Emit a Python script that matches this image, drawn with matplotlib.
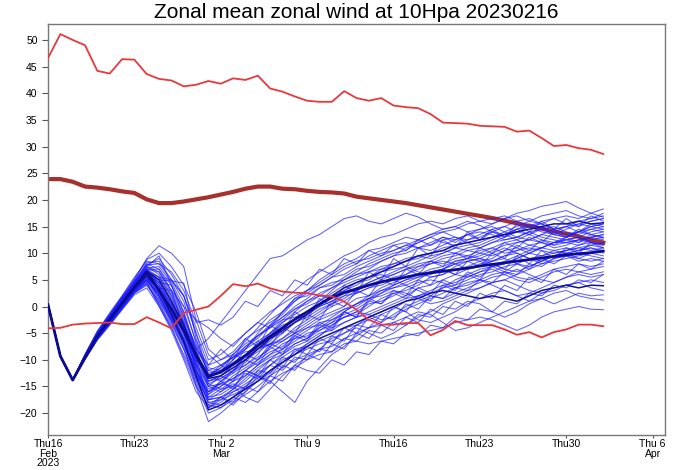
import matplotlib
matplotlib.use('Agg')
import matplotlib.pyplot as plt
import numpy as np

# Daily dates of the forecast (Feb 16 -> Apr 2, 2023)
dates = np.arange('2023-02-16', '2023-04-03', dtype='datetime64[D]')

# Climatological max / min / mean of the zonal mean zonal wind (m/s)
clim_max = [46.6, 51.1, 50.0, 49.0, 44.2, 43.7, 46.4, 46.3, 43.6, 42.7,
            42.4, 41.3, 41.6, 42.3, 41.8, 42.8, 42.5, 43.3, 40.9, 40.3,
            39.4, 38.6, 38.4, 38.4, 40.4, 39.1, 38.6, 39.1, 37.7, 37.4,
            37.2, 36.1, 34.5, 34.4, 34.3, 33.9, 33.8, 33.7, 32.8, 33.0,
            31.6, 30.1, 30.3, 29.7, 29.4, 28.6]
clim_min = [-4.1, -4.0, -3.4, -3.2, -3.1, -3.0, -3.3, -3.3, -2.0, -3.0,
            -4.1, -1.2, -0.6, 0.0, 2.0, 4.2, 3.8, 4.3, 3.4, 2.8,
            2.6, 2.5, 2.1, 1.9, 0.9, -0.6, -2.5, -3.4, -3.4, -3.1,
            -3.1, -5.4, -4.4, -2.7, -3.5, -3.5, -3.5, -4.3, -5.3, -4.8,
            -5.8, -4.8, -4.3, -3.4, -3.4, -3.7]
clim_mean = [23.9, 23.9, 23.4, 22.5, 22.3, 22.0, 21.6, 21.3, 20.1, 19.4,
             19.4, 19.7, 20.1, 20.5, 21.0, 21.5, 22.1, 22.5, 22.5, 22.1,
             22.0, 21.7, 21.5, 21.4, 21.2, 20.6, 20.3, 20.0, 19.7, 19.4,
             19.0, 18.6, 18.2, 17.8, 17.4, 17.0, 16.6, 16.1, 15.6, 15.1,
             14.6, 14.1, 13.6, 13.1, 12.5, 12.0]

# All members share the first three days
start = [0.4, -9.3, -13.8]

# Ensemble mean
ens_mean = [0.3, -9.3, -13.8, -9.6, -5.6, -2.4, 0.6, 3.6, 6.5, 3.0,
            -0.5, -4.5, -9.0, -13.1, -12.3, -10.8, -9.2, -7.4, -5.6, -4.0,
            -2.4, -1.0, 0.4, 1.7, 2.6, 3.3, 4.0, 4.6, 5.1, 5.5,
            6.0, 6.3, 6.6, 6.9, 7.2, 7.6, 7.9, 8.2, 8.5, 8.8,
            9.1, 9.4, 9.7, 9.9, 10.1, 10.4]

# Members from day 3 onwards
m01 = [-9.2, -5.0, -2.0, 1.0, 4.0, 7.0, 4.0, 0.0, -3.5, -8.0, -6.0,
       -3.0, 0.0, 3.0, 6.0, 9.0, 9.5, 11.0, 12.5, 13.5, 15.0, 16.5, 17.0, 16.0, 15.5,
       16.5, 17.5, 16.8, 15.5, 14.5, 15.0, 16.0, 15.2, 14.0, 13.5, 14.5, 15.5, 14.8, 13.5,
       13.0, 14.0, 15.0, 14.5]
m02 = [-9.8, -6.0, -3.0, 0.0, 3.0, 5.5, 3.0, -1.0, -5.0, -10.0, -13.0,
       -11.5, -9.0, -6.5, -4.0, -1.5, 1.0, 3.0, 5.0, 6.5, 8.0, 9.5, 10.5, 12.0, 13.0,
       13.5, 14.5, 15.5, 16.0, 15.5, 16.5, 17.0, 16.0, 15.5, 16.5, 17.5, 18.0, 18.8, 19.2,
       19.7, 18.5, 17.5, 16.8]
m03 = [-9.4, -5.4, -2.2, 0.8, 4.2, 7.5, 6.0, 2.0, -3.0, -9.0, -14.0,
       -13.0, -11.0, -8.0, -5.0, -2.5, -1.0, 1.0, 3.0, 5.0, 6.5, 8.0, 9.0, 10.5, 11.0,
       12.0, 13.0, 12.5, 13.5, 14.5, 15.0, 14.0, 14.5, 15.5, 16.5, 17.0, 16.0, 15.5, 16.5,
       17.0, 16.5, 17.5, 18.3]
m04 = [-9.0, -4.8, -1.5, 1.8, 5.0, 9.0, 11.4, 10.0, 7.5, -2.5, -9.0,
       -11.0, -9.5, -8.0, -5.5, -4.0, -1.0, 1.5, 2.0, 3.5, 4.0, 5.5, 7.0, 7.5, 8.5,
       9.5, 10.0, 11.0, 11.5, 12.5, 13.0, 12.0, 11.0, 12.0, 13.0, 14.0, 13.5, 12.5, 12.0,
       13.0, 14.0, 13.5, 12.8]
m05 = [-9.6, -5.8, -2.8, 0.2, 3.2, 6.0, 5.0, 4.8, 4.4, -6.0, -13.0,
       -14.0, -12.0, -11.0, -9.0, -6.0, -5.0, -3.0, -1.5, 0.0, 1.0, 2.5, 3.0, 4.5, 5.5,
       6.0, 7.0, 7.5, 8.5, 8.0, 9.0, 9.5, 10.5, 11.0, 10.0, 10.5, 11.5, 12.0, 11.0,
       11.5, 12.5, 12.0, 11.8]
m06 = [-9.7, -6.0, -3.0, 0.0, 3.0, 5.0, 2.0, -3.0, -8.0, -15.0, -21.6,
       -20.0, -18.0, -16.5, -15.0, -13.0, -10.5, -9.0, -7.0, -5.5, -3.5, -2.0, -1.5, 0.0, 1.5,
       2.5, 3.0, 4.0, 5.5, 6.0, 7.0, 7.5, 8.5, 9.0, 10.5, 11.0, 10.0, 11.0, 12.0,
       12.5, 12.0, 13.0, 13.5]
m07 = [-9.5, -5.5, -2.5, 0.5, 3.5, 6.0, 3.5, -1.0, -5.0, -11.0, -16.0,
       -15.0, -13.5, -12.0, -13.0, -14.0, -16.0, -18.0, -14.0, -11.5, -9.0, -7.5, -5.5, -4.0, -3.0,
       -1.5, 0.0, 1.0, 2.0, 3.5, 4.0, 5.0, 6.0, 6.5, 7.5, 8.0, 9.0, 9.5, 10.0,
       10.5, 11.0, 10.5, 11.0]
m08 = [-9.9, -6.2, -3.4, -0.5, 2.5, 4.0, 1.0, -2.5, -7.0, -13.0, -18.0,
       -18.5, -17.0, -18.0, -16.0, -14.0, -12.5, -11.5, -10.0, -9.0, -8.5, -7.0, -6.5, -7.0, -6.5,
       -6.0, -5.5, -5.0, -4.5, -4.0, -3.0, -2.5, -2.0, -2.5, -3.5, -4.5, -3.5, -2.0, -1.0,
       -0.5, 0.0, -0.5, -0.6]
m09 = [-9.3, -5.2, -2.2, 0.8, 3.8, 6.5, 4.5, 0.5, -4.0, -10.0, -17.5,
       -17.0, -16.0, -14.5, -13.0, -11.0, -9.5, -8.0, -7.5, -6.5, -5.5, -4.0, -3.5, -2.0, -1.0,
       0.0, -1.0, -2.5, -3.0, -2.0, -1.0, 0.5, 1.5, 2.5, 3.0, 2.0, 1.0, 1.5, 2.5,
       3.0, 2.0, 1.5, 1.2]
m10 = [-9.5, -5.6, -2.6, 0.3, 3.3, 5.5, 2.0, -2.0, -6.5, -12.0, -15.5,
       -14.5, -12.0, -10.5, -8.0, -6.5, -4.0, -2.5, -1.0, 0.5, 2.0, 3.0, 4.5, 5.0, 6.5,
       7.0, 7.5, 6.5, 5.5, 6.0, 7.5, 8.5, 9.0, 8.0, 7.0, 6.5, 7.5, 8.5, 9.5,
       10.0, 9.0, 8.5, 9.0]
m11 = [-9.0, -4.6, -1.2, 2.0, 5.5, 8.5, 8.0, 5.0, 1.0, -7.0, -12.5,
       -12.0, -10.0, -7.5, -6.0, -3.5, -2.0, 0.0, 1.5, 3.5, 4.5, 5.0, 6.5, 8.0, 9.0,
       10.0, 10.5, 12.0, 13.0, 12.0, 11.5, 12.5, 13.5, 14.5, 15.0, 14.0, 15.0, 16.0, 16.5,
       15.5, 15.0, 16.0, 16.5]
m12 = [-9.8, -6.0, -3.2, -0.2, 2.8, 4.5, 0.0, -4.0, -9.0, -14.0, -19.0,
       -18.0, -16.0, -15.0, -12.5, -11.0, -9.0, -7.0, -6.0, -4.0, -3.0, -1.0, 0.5, 1.5, 2.5,
       4.0, 5.0, 5.5, 6.5, 7.0, 8.5, 9.0, 10.0, 9.5, 10.5, 12.0, 12.5, 13.5, 13.0,
       12.5, 13.0, 14.0, 14.5]
m13 = [-9.4, -5.3, -2.0, 1.2, 4.5, 7.0, 6.5, 3.0, 0.0, -2.5, -4.0,
       -6.0, -7.5, -5.0, -3.0, -4.0, -2.5, -0.5, 1.0, 2.0, 1.5, 3.0, 4.0, 5.5, 6.0,
       5.0, 4.0, 5.0, 6.5, 7.0, 6.0, 5.5, 6.5, 7.5, 8.0, 9.0, 10.0, 9.5, 10.5,
       11.0, 10.5, 11.5, 12.0]
m14 = [-9.6, -5.7, -2.7, 0.2, 3.0, 5.0, 1.5, -2.0, -6.0, -11.0, -17.0,
       -16.5, -15.0, -17.0, -18.0, -15.5, -13.0, -11.0, -9.5, -8.0, -6.0, -5.0, -3.5, -2.5, -1.5,
       -0.5, 1.0, 2.0, 2.5, 3.5, 5.0, 6.0, 7.0, 7.5, 8.5, 9.5, 10.5, 11.0, 12.0,
       12.0, 11.5, 12.5, 13.0]
m15 = [-9.2, -5.1, -1.8, 1.5, 4.8, 8.0, 7.0, 4.0, -1.0, -8.0, -14.5,
       -13.5, -12.0, -9.0, -7.0, -5.5, -3.0, -1.5, 0.0, 1.0, 2.5, 4.0, 5.0, 5.5, 7.0,
       8.0, 9.0, 9.5, 9.0, 10.0, 11.0, 10.5, 10.0, 11.0, 12.0, 12.5, 11.5, 11.0, 12.0,
       12.5, 13.0, 12.0, 11.5]
m16 = [-9.7, -5.9, -2.9, 0.0, 2.8, 4.8, 2.5, -1.5, -5.5, -10.5, -15.0,
       -16.0, -14.0, -13.0, -11.0, -9.0, -8.0, -6.5, -5.0, -4.5, -3.0, -2.0, -1.0, 0.5, 1.0,
       2.0, 3.5, 4.5, 5.0, 4.5, 3.5, 4.0, 5.0, 6.0, 6.5, 5.5, 5.0, 6.0, 7.0,
       7.5, 8.0, 7.5, 8.0]
m17 = [-9.3, -5.2, -2.0, 1.0, 4.0, 6.5, 5.5, 1.5, -3.0, -9.5, -13.5,
       -12.0, -10.5, -9.0, -7.0, -5.0, -2.5, -2.0, -1.0, 1.0, 3.0, 5.0, 6.0, 7.0, 8.5,
       9.5, 11.0, 12.0, 13.0, 14.0, 14.5, 15.5, 16.0, 16.5, 17.0, 16.0, 15.0, 14.0, 13.5,
       14.5, 15.5, 16.0, 16.5]
m18 = [-9.5, -5.5, -2.4, 0.6, 3.6, 5.8, 3.0, -0.5, -4.5, -11.5, -18.5,
       -19.0, -17.5, -16.0, -14.0, -12.5, -10.0, -9.0, -8.0, -7.0, -6.5, -5.0, -4.0, -5.0, -6.0,
       -5.0, -3.5, -2.0, -1.0, 0.5, 1.5, 2.5, 3.5, 4.5, 5.0, 6.0, 7.0, 8.0, 8.5,
       9.0, 9.5, 10.0, 10.5]
m19 = [-9.1, -4.9, -1.6, 1.6, 4.6, 7.8, 9.0, 6.0, 2.0, -5.0, -11.0,
       -10.0, -8.5, -6.0, -4.5, -3.0, -1.5, 1.0, 2.5, 4.0, 5.5, 6.0, 7.5, 8.5, 9.5,
       10.5, 11.5, 11.0, 12.0, 13.0, 12.5, 13.5, 14.5, 15.0, 14.0, 13.0, 12.5, 13.5, 14.5,
       15.0, 15.5, 15.0, 15.5]
m20 = [-9.8, -6.1, -3.2, -0.3, 2.6, 4.2, 0.5, -3.5, -8.0, -13.5, -17.5,
       -17.0, -15.5, -14.0, -12.0, -10.0, -8.0, -6.0, -4.5, -3.0, -2.5, -1.0, 0.5, 2.0, 3.0,
       3.5, 4.0, 3.0, 2.0, 1.5, 2.5, 3.5, 4.5, 5.5, 6.0, 7.0, 6.0, 5.0, 4.5,
       5.5, 6.5, 7.0, 7.5]
m21 = [-9.4, -5.4, -2.3, 0.7, 3.8, 6.8, 5.0, 1.0, -4.0, -10.0, -14.0,
       -13.0, -11.0, -10.0, -8.5, -7.0, -6.0, -4.5, -3.0, -1.5, 0.0, 1.0, 2.5, 3.5, 4.0,
       5.0, 6.0, 7.0, 8.0, 9.0, 9.5, 10.5, 11.0, 12.0, 12.5, 13.0, 14.0, 13.0, 12.5,
       12.0, 12.5, 13.0, 12.5]
m22 = [-9.6, -5.8, -2.8, 0.1, 3.1, 5.2, 2.0, -2.5, -7.0, -12.5, -16.5,
       -15.0, -13.0, -11.5, -10.0, -8.5, -7.5, -5.5, -4.0, -3.5, -2.0, -0.5, 0.0, 1.5, 2.0,
       3.0, 2.5, 1.5, 0.5, 1.0, 2.0, 3.0, 3.5, 4.5, 5.0, 4.0, 3.0, 2.5, 3.0,
       4.0, 4.5, 5.0, 4.5]
m23 = [-9.2, -5.0, -1.8, 1.4, 4.5, 7.5, 6.5, 2.5, -2.0, -7.5, -12.0,
       -11.0, -9.5, -7.5, -5.5, -4.0, -2.0, -0.5, 0.5, 2.0, 3.5, 5.0, 6.0, 6.5, 7.5,
       8.0, 8.5, 9.5, 10.0, 11.0, 11.5, 12.0, 12.5, 13.0, 14.0, 15.0, 16.0, 17.0, 17.5,
       18.0, 17.0, 16.5, 17.5]
m24 = [-9.7, -5.9, -3.0, -0.1, 2.9, 5.0, 2.0, -2.0, -6.0, -12.0, -17.0,
       -15.5, -14.0, -12.0, -10.0, -7.5, -6.0, -4.0, -2.5, -1.0, 0.5, 1.5, 3.0, 4.0, 5.0,
       6.0, 7.0, 8.0, 8.5, 9.5, 10.0, 9.5, 9.0, 8.5, 9.5, 10.5, 11.0, 10.5, 10.0,
       10.5, 11.0, 11.5, 11.0]
m25 = [-9.5, -5.5, -2.5, 0.4, 3.4, 6.2, 4.0, 0.0, -5.0, -11.0, -15.0,
       -14.5, -13.5, -12.0, -10.5, -9.0, -7.0, -6.0, -5.5, -4.0, -2.5, -1.5, -0.5, 1.0, 2.5,
       3.5, 4.5, 5.5, 6.0, 7.0, 8.0, 8.5, 9.0, 10.0, 11.0, 10.0, 9.0, 8.5, 9.5,
       10.5, 11.5, 12.0, 11.5]
m26 = [-9.3, -5.3, -2.1, 1.1, 4.3, 7.2, 7.5, 4.5, 0.0, -6.5, -11.5,
       -12.0, -11.0, -9.5, -8.0, -7.0, -5.0, -3.0, -2.0, -0.5, 0.5, 2.0, 2.5, 3.5, 4.5,
       5.5, 6.0, 7.5, 8.0, 8.5, 8.0, 7.0, 7.5, 8.5, 9.5, 10.0, 9.0, 8.0, 9.0,
       9.5, 10.0, 9.5, 9.0]
m27 = [-9.9, -6.3, -3.5, -0.6, 2.2, 3.5, 0.0, -4.5, -10.0, -16.0, -19.0,
       -17.5, -15.5, -13.5, -11.5, -10.0, -9.0, -7.5, -6.5, -5.0, -4.5, -3.0, -2.0, -1.5, -0.5,
       0.5, 1.5, 2.0, 3.0, 4.0, 4.5, 5.5, 6.5, 7.0, 6.0, 5.0, 4.5, 5.5, 6.5,
       7.0, 6.5, 6.0, 6.5]
m28 = [-9.4, -5.4, -2.3, 0.8, 3.9, 6.6, 4.5, 1.0, -4.0, -9.0, -13.0,
       -12.5, -10.0, -8.0, -6.5, -5.0, -3.5, -2.5, -1.5, 0.0, 1.0, 2.0, 3.5, 4.5, 5.5,
       6.5, 7.5, 8.5, 9.5, 10.0, 11.0, 11.5, 12.0, 13.0, 13.5, 12.5, 13.5, 14.5, 15.0,
       14.0, 13.5, 14.5, 15.0]
m29 = [-9.6, -5.6, -2.6, 0.3, 3.3, 5.6, 3.0, -1.0, -6.0, -12.5, -18.0,
       -17.5, -16.5, -15.5, -14.0, -13.0, -11.5, -10.0, -9.0, -8.0, -7.5, -6.0, -5.0, -4.0, -3.5,
       -3.0, -2.0, -1.0, -1.5, -3.0, -4.5, -4.0, -3.0, -2.0, -1.0, 0.0, 1.0, 2.5, 3.5,
       4.0, 4.5, 3.5, 3.0]
m30 = [-9.3, -5.2, -2.0, 1.0, 4.0, 6.8, 5.5, 2.0, -2.5, -8.5, -14.0,
       -13.5, -12.0, -10.0, -7.5, -5.0, -3.0, -1.0, 1.0, 2.5, 3.5, 4.5, 5.5, 6.5, 7.0,
       7.5, 8.5, 9.0, 10.0, 10.5, 10.0, 11.0, 11.5, 12.5, 13.5, 14.5, 15.0, 15.5, 14.5,
       13.5, 14.0, 15.0, 15.5]
m31 = [-9.8, -6.0, -3.1, -0.2, 2.7, 4.6, 1.0, -3.0, -7.5, -14.5, -20.0,
       -19.0, -17.0, -15.0, -13.5, -12.0, -10.5, -8.5, -7.0, -5.5, -4.0, -3.0, -2.0, -1.0, 0.0,
       1.0, 2.0, 3.5, 4.0, 5.0, 6.0, 7.0, 8.0, 8.5, 9.0, 8.0, 7.5, 8.5, 9.5,
       10.0, 10.5, 11.0, 10.5]
m32 = [-9.2, -5.0, -1.7, 1.5, 4.7, 8.2, 8.5, 5.0, 2.0, -4.0, -10.0,
       -9.0, -7.0, -5.0, -3.0, -1.0, 0.5, 2.0, 3.0, 4.5, 6.0, 7.5, 8.5, 9.0, 10.0,
       10.5, 11.5, 12.5, 13.5, 14.0, 13.0, 12.5, 13.0, 14.0, 15.0, 16.0, 16.5, 15.5, 14.5,
       15.0, 16.0, 16.5, 17.0]
m33 = [-9.5, -5.5, -2.5, 0.5, 3.5, 6.0, 3.5, -0.5, -5.0, -10.5, -14.5,
       -15.5, -15.0, -13.0, -11.0, -9.5, -8.5, -7.0, -6.0, -4.5, -3.5, -2.0, -1.0, -1.5, -2.5,
       -2.0, -0.5, 0.5, 1.5, 2.5, 3.5, 4.5, 5.0, 4.0, 3.0, 2.0, 2.5, 3.5, 4.5,
       5.5, 6.0, 5.5, 6.0]
m34 = [-9.0, -4.7, -1.4, 1.9, 5.2, 8.8, 10.0, 7.5, 4.0, -1.0, -8.0,
       -10.0, -9.0, -7.0, -5.5, -3.5, -1.0, 1.5, 3.0, 4.0, 5.5, 7.0, 8.0, 9.5, 10.5,
       11.5, 12.0, 11.0, 10.5, 11.5, 12.5, 13.5, 14.0, 13.5, 12.5, 13.0, 14.0, 14.5, 13.5,
       13.0, 14.0, 14.5, 14.0]
m35 = [-9.7, -5.8, -2.9, 0.0, 2.9, 5.0, 2.5, -1.5, -6.5, -13.0, -16.0,
       -14.0, -12.5, -11.0, -9.5, -8.0, -6.5, -5.0, -3.5, -2.0, -1.0, 0.0, 1.5, 2.0, 3.5,
       4.5, 5.5, 6.0, 7.0, 7.5, 8.5, 9.0, 8.5, 7.5, 8.0, 9.0, 10.0, 11.0, 10.5,
       10.0, 10.5, 11.0, 10.0]
m36 = [-9.4, -5.3, -2.2, 0.9, 4.0, 6.4, 4.0, 0.5, -4.5, -10.0, -13.0,
       -11.5, -9.5, -8.5, -8.0, -7.0, -6.5, -5.0, -4.0, -2.5, -1.5, -0.5, 0.5, 1.5, 3.0,
       4.0, 5.0, 6.0, 6.5, 7.0, 8.0, 9.0, 9.5, 10.5, 11.5, 12.0, 12.5, 12.0, 11.5,
       12.0, 12.5, 13.0, 13.5]
m37 = [-9.5, -5.4, -2.4, 0.6, 3.7, 6.3, 3.5, 0.5, -3.0, -12.0, -16.5,
       -14.0, -15.5, -12.0, -13.0, -10.0, -11.5, -8.0, -9.0, -6.0, -7.0, -4.0, -5.0, -2.0, -3.0,
       0.0, -1.0, 2.0, 1.0, 4.0, 3.0, 6.0, 5.0, 8.0, 7.0, 9.5, 8.0, 10.5, 9.0,
       11.0, 10.0, 12.0, 11.0]
m38 = [-9.3, -5.1, -1.9, 1.3, 4.4, 7.0, 7.0, 3.0, -1.5, -8.0, -11.0,
       -8.0, -10.0, -6.0, -7.5, -3.5, -5.0, -1.0, -2.5, 1.5, 0.0, 4.0, 2.5, 6.5, 5.0,
       9.0, 7.5, 11.0, 9.5, 12.5, 11.0, 14.0, 12.5, 14.5, 13.0, 15.5, 14.0, 16.0, 14.5,
       16.5, 15.0, 17.0, 16.0]
m39 = [-9.8, -6.1, -3.3, -0.4, 2.5, 4.3, 0.5, -4.0, -9.5, -15.0, -18.5,
       -17.0, -18.0, -15.0, -16.0, -13.0, -14.0, -11.0, -12.0, -12.5, -10.0, -11.0, -8.5, -9.0, -6.5,
       -7.0, -5.0, -5.5, -3.5, -4.0, -2.0, -2.5, -0.5, -1.0, 1.0, 0.5, 2.5, 2.0, 4.0,
       3.5, 5.0, 4.5, 6.0]
m40 = [-9.4, -5.3, -2.2, 0.9, 4.1, 7.0, 5.5, 5.0, 2.0, -5.0, -13.0,
       -11.0, -12.5, -9.0, -10.0, -7.0, -8.0, -5.0, -6.0, -3.0, -4.0, -1.0, -2.0, 1.0, 0.5,
       3.0, 2.0, 5.0, 4.0, 7.0, 6.0, 8.5, 7.5, 10.0, 9.0, 11.5, 10.5, 12.5, 11.5,
       13.0, 12.0, 13.5, 13.0]
m41 = [-9.2, -5.0, -1.8, 1.4, 4.6, 7.8, 8.0, 6.5, 3.0, -3.0, -2.5,
       -3.5, -2.0, 1.0, 0.0, 3.0, 2.0, 5.0, 4.0, 7.0, 6.0, 9.0, 8.0, 10.5, 9.5,
       11.5, 10.5, 12.5, 11.5, 13.0, 12.0, 13.5, 12.5, 14.0, 13.0, 14.5, 13.5, 15.0, 14.0,
       15.0, 14.0, 15.5, 15.0]
m42 = [-9.6, -5.7, -2.7, 0.2, 3.2, 5.4, 2.5, -2.0, -7.0, -13.5, -19.0,
       -17.0, -18.5, -16.0, -13.0, -14.5, -11.0, -12.0, -9.0, -10.0, -7.0, -8.0, -5.0, -6.0, -3.5,
       -4.5, -2.0, -3.0, -0.5, -1.5, 1.0, 0.0, 2.5, 1.5, 4.0, 3.0, 5.5, 4.5, 7.0,
       6.0, 8.0, 7.0, 8.5]
m43 = [-9.5, -5.5, -2.5, 0.5, 3.5, 6.0, 4.5, 4.0, -1.0, -9.0, -15.0,
       -13.0, -14.0, -10.0, -11.0, -7.5, -9.0, -5.5, -6.5, -3.5, -4.5, -1.0, -2.0, 1.5, 0.5,
       2.5, 1.5, 3.5, 2.5, 5.0, 4.0, 6.5, 5.5, 7.5, 6.5, 8.0, 7.0, 9.0, 8.0,
       9.5, 8.5, 9.0, 8.5]
m44 = [-9.7, -5.9, -2.9, 0.0, 3.0, 5.1, 1.5, -2.5, -6.5, -12.0, -16.0,
       -14.5, -15.0, -12.5, -13.5, -11.0, -12.0, -9.5, -10.0, -8.0, -8.5, -6.0, -6.5, -4.5, -5.0,
       -3.0, -3.5, -1.5, -2.0, 0.0, -0.5, 1.0, 0.5, -1.0, -2.0, -1.0, 0.5, 1.5, 0.5,
       1.5, 2.5, 2.0, 2.2]
m45 = [-9.3, -5.2, -2.1, 1.0, 4.2, 7.4, 9.5, 4.0, -2.0, -8.0, -12.0,
       -12.5, -9.0, -10.0, -6.5, -7.5, -4.0, -5.0, -1.5, -2.5, 1.0, 0.0, 3.0, 2.0, 5.0,
       4.0, 7.0, 6.0, 8.5, 7.5, 10.0, 9.0, 11.0, 10.0, 12.0, 11.0, 13.0, 12.0, 14.0,
       13.0, 14.5, 13.5, 14.0]
m46 = [-9.6, -5.6, -2.6, 0.3, 3.3, 5.7, 3.5, 3.0, -4.0, -12.0, -17.5,
       -16.0, -14.5, -15.5, -12.0, -12.5, -9.5, -10.5, -7.5, -8.5, -5.5, -6.5, -3.5, -4.0, -1.5,
       -2.5, 0.5, -0.5, 2.0, 1.5, 3.5, 3.0, 5.0, 4.5, 6.5, 6.0, 8.0, 7.5, 9.0,
       9.5, 9.0, 10.0, 9.5]

# Two darker runs (control-like)
ctrl_a = [-9.6, -5.6, -2.6, 0.4, 3.4, 5.8, 3.0, -1.5, -6.5, -13.0, -19.4,
          -18.5, -17.0, -15.5, -14.0, -12.0, -10.5, -9.0, -7.5, -6.0, -5.0, -4.0, -3.0, -2.0, -1.0,
          0.0, 1.0, 1.5, 2.5, 3.0, 2.5, 2.0, 1.5, 2.0, 1.5, 1.0, 2.0, 3.0, 3.5,
          4.0, 3.5, 4.0, 3.9]
ctrl_b = [-9.4, -5.4, -2.3, 0.7, 3.8, 6.6, 5.0, 1.0, -3.5, -9.5, -13.5,
          -13.0, -11.5, -10.0, -8.0, -6.0, -4.5, -3.0, -1.5, 0.5, 2.0, 3.5, 4.5, 5.5, 6.5,
          7.5, 8.5, 9.5, 10.0, 10.5, 11.5, 12.0, 12.5, 13.0, 13.5, 14.0, 14.5, 15.0, 15.5,
          15.5, 16.0, 15.5, 15.7]

members = [m01, m02, m03, m04, m05, m06, m07, m08, m09, m10, m11, m12,
           m13, m14, m15, m16, m17, m18, m19, m20, m21, m22, m23, m24,
           m25, m26, m27, m28, m29, m30, m31, m32, m33, m34, m35, m36,
           m37, m38, m39, m40, m41, m42, m43, m44, m45, m46]

tick_dates = np.array(['2023-02-16', '2023-02-23', '2023-03-02', '2023-03-09',
                       '2023-03-16', '2023-03-23', '2023-03-30', '2023-04-06'],
                      dtype='datetime64[D]')
tick_labels = ['Thu16\nFeb\n2023', 'Thu23', 'Thu 2\nMar', 'Thu 9',
               'Thu16', 'Thu23', 'Thu30', 'Thu 6\nApr']

plt.rcParams['font.family'] = ['Liberation Sans', 'DejaVu Sans']

fig = plt.figure(figsize=(7, 4.7), dpi=100)
ax = fig.add_axes([0.0686, 0.0745, 0.8814, 0.8745])

ax.plot(dates, clim_mean, color='#a8302c', lw=3.0, zorder=2)

for m in members:
    ax.plot(dates, start + m, color='#1c1cff', lw=0.75, alpha=0.7, zorder=3)
ax.plot(dates, start + ctrl_a, color='#141490', lw=1.1, zorder=4)
ax.plot(dates, start + ctrl_b, color='#141490', lw=1.1, zorder=4)
ax.plot(dates, ens_mean, color='#0c0c90', lw=2.0, zorder=5)

ax.plot(dates, clim_min, color='#e8383a', lw=1.3, zorder=6)
ax.plot(dates, clim_max, color='#e8383a', lw=1.3, zorder=6)

ax.set_xlim(np.datetime64('2023-02-16'), np.datetime64('2023-04-07'))
ax.set_ylim(-24.1, 53)
ax.set_xticks(tick_dates)
ax.set_xticklabels(tick_labels, fontsize=7.5, linespacing=0.95)
ax.set_yticks(np.arange(-20, 51, 5))
ax.tick_params(axis='y', labelsize=7.5, length=4, color='#555555')
ax.tick_params(axis='x', length=2.5, pad=0.5, color='#555555')
for s in ax.spines.values():
    s.set_color('#777777')
    s.set_linewidth(1.0)

ax.set_title('Zonal mean zonal wind at 10Hpa 20230216', fontsize=15, pad=4)

fig.savefig('out.png', dpi=100)
plt.close(fig)
